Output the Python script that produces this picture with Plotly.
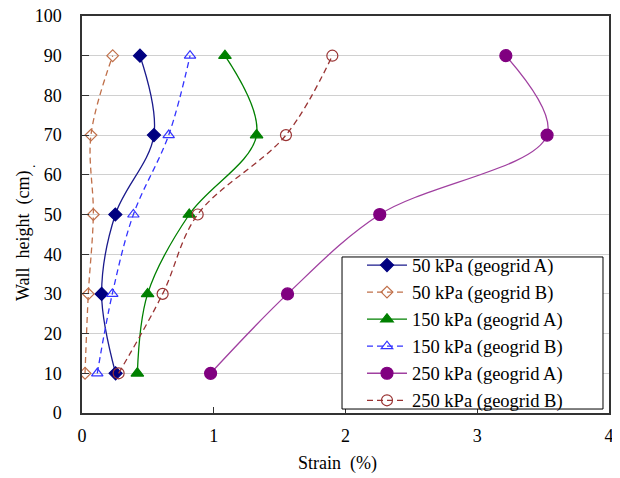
import plotly.graph_objects as go

heights = [10, 30, 50, 70, 90]
strain_50A = [0.255, 0.149, 0.253, 0.546, 0.44]
strain_50B = [0.023, 0.048, 0.086, 0.068, 0.233]
strain_150A = [0.42, 0.498, 0.814, 1.325, 1.085]
strain_150B = [0.116, 0.23, 0.39, 0.658, 0.82]
strain_250A = [0.976, 1.56, 2.26, 3.53, 3.217]
strain_250B = [0.278, 0.612, 0.878, 1.548, 1.90]

names = ["50 kPa (geogrid A)", "50 kPa (geogrid B)", "150 kPa (geogrid A)",
         "150 kPa (geogrid B)", "250 kPa (geogrid A)", "250 kPa (geogrid B)"]
x_ticks = [0, 1, 2, 3, 4]
y_ticks = [0, 10, 20, 30, 40, 50, 60, 70, 80, 90, 100]

series = [strain_50A, strain_50B, strain_150A, strain_150B, strain_250A, strain_250B]
line_colors = ["#1a1a8c", "#c0704a", "#008000", "#3333ff", "#a040a0", "#993333"]
marker_colors = ["#000080", "#c0704a", "#008000", "#3333ff", "#800080", "#993333"]
symbols = ["diamond", "diamond-open", "triangle-up", "triangle-up-open", "circle", "circle-open"]
sizes = [10, 9, 11, 10, 12, 11]
dashes = ["solid", "6px,4px", "solid", "6px,4px", "solid", "6px,4px"]

fig = go.Figure()
for i, s in enumerate(series):
    fig.add_trace(go.Scatter(
        x=s, y=heights, name=names[i], mode="lines+markers",
        line=dict(color=line_colors[i], width=1.3, dash=dashes[i], shape="spline", smoothing=1),
        marker=dict(symbol=symbols[i], size=sizes[i], color=marker_colors[i],
                    line=dict(color=marker_colors[i], width=1.2)),
    ))

font_family = "'Liberation Serif', 'DejaVu Serif', serif"
fig.update_layout(
    width=612, height=470,
    margin=dict(l=74, r=11, t=8, b=65, autoexpand=False),
    paper_bgcolor="white", plot_bgcolor="white",
    font=dict(family=font_family, color="black", size=18),
    showlegend=True,
    legend=dict(x=0.5313, y=0.2015, xanchor="left", yanchor="middle",
                borderwidth=0, bgcolor="rgba(0,0,0,0)",
                font=dict(size=18.5, family=font_family),
                itemwidth=40),
    xaxis=dict(range=[0, 4], tickvals=x_ticks, showgrid=False, zeroline=False,
               showline=True, linecolor="#333", linewidth=1.5, mirror=True,
               ticks="inside", ticklen=6, tickcolor="#333", automargin=False,
               ticklabeloverflow="allow",
               ticklabelstandoff=6, tickfont=dict(size=18, family=font_family)),
    yaxis=dict(range=[0, 100], tickvals=y_ticks, showgrid=True, gridcolor="#d0d0d0",
               gridwidth=1, zeroline=False, automargin=False,
               showline=True, linecolor="#333", linewidth=1.5, mirror=True,
               ticks="inside", ticklen=7, tickcolor="#333",
               ticklabeloverflow="allow",
               ticklabelstandoff=15, tickfont=dict(size=18, family=font_family)),
    shapes=[
        dict(type="rect", xref="paper", yref="paper", x0=0.4934, x1=0.9886,
             y0=0.010, y1=0.393, layer="above",
             line=dict(color="black", width=1), fillcolor="white"),
    ],
    annotations=[
        dict(text="Strain  (%)", xref="paper", yref="paper", x=0.484, y=-0.126,
             xanchor="center", yanchor="middle",
             showarrow=False, font=dict(size=18, family=font_family)),
        dict(text="Wall  height  (cm)", xref="paper", yref="paper", x=-0.110, y=0.446,
             xanchor="center", yanchor="middle",
             textangle=-90, showarrow=False, font=dict(size=18, family=font_family)),
        dict(text=".", xref="paper", yref="paper", x=-0.0987, y=0.622,
             xanchor="center", yanchor="middle",
             textangle=-90, showarrow=False, font=dict(size=14, family=font_family)),
    ],
)

fig.write_html("out.html")
